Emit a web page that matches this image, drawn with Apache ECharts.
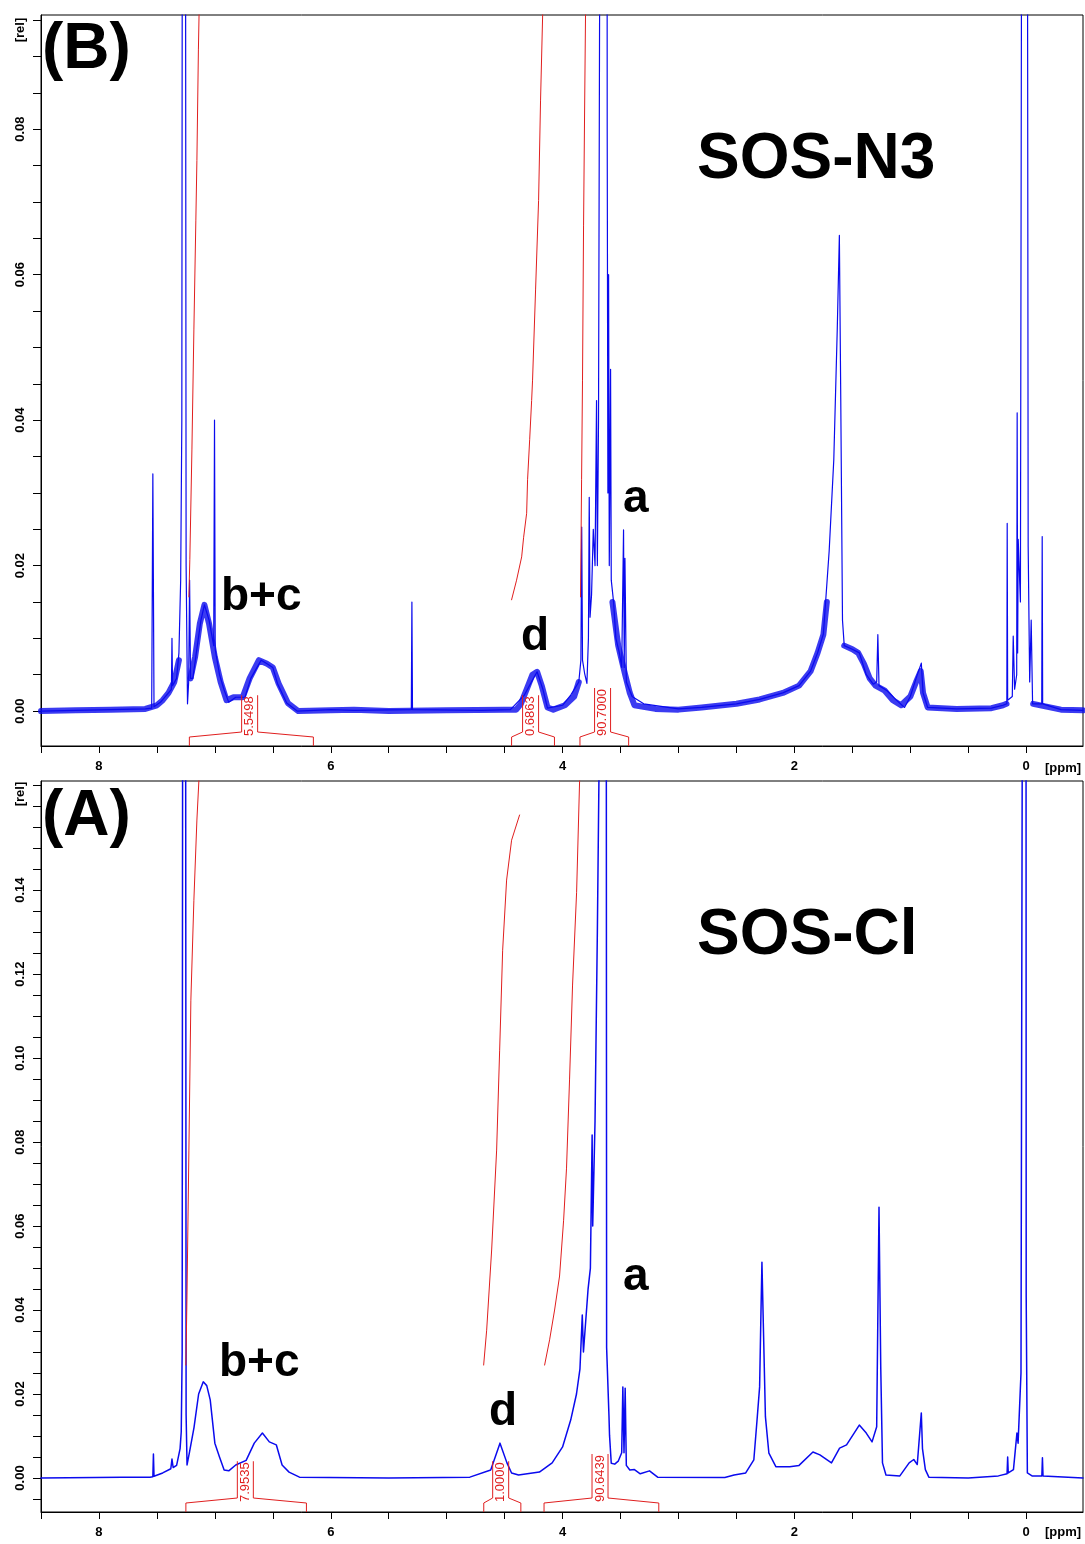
<!DOCTYPE html>
<html><head><meta charset="utf-8">
<script src="https://cdn.jsdelivr.net/npm/echarts@6/dist/echarts.min.js"></script>
<style>html,body{margin:0;padding:0;background:#fff}#c{width:1085px;height:1544px}</style>
</head><body><div id="c"></div>
<script>
// ---------- tick labels ----------
const xTicks = [8.5,8,7.5,7,6.5,6,5.5,5,4.5,4,3.5,3,2.5,2,1.5,1,0.5,0];
const xLabels = [8,6,4,2,0];
const yTicksB = [0,0.005,0.01,0.015,0.02,0.025,0.03,0.035,0.04,0.045,0.05,0.055,0.06,0.065,0.07,0.075,0.08,0.085,0.09,0.095];
const yLabelsB = [0,0.02,0.04,0.06,0.08];
const yTicksA = [-0.005,0,0.005,0.01,0.015,0.02,0.025,0.03,0.035,0.04,0.045,0.05,0.055,0.06,0.065,0.07,0.075,0.08,0.085,0.09,0.095,0.1,0.105,0.11,0.115,0.12,0.125,0.13,0.135,0.14,0.145,0.15,0.155,0.16,0.165];
const yLabelsA = [0,0.02,0.04,0.06,0.08,0.10,0.12,0.14];

// ---------- (B) SOS-N3 spectrum [ppm, rel] ----------
const specB = [
[8.50,0.0000],[8.20,0.0001],[7.90,0.0002],[7.60,0.0003],[7.545,0.0004],[7.535,0.0326],[7.525,0.0006],
[7.47,0.0012],[7.40,0.0025],[7.375,0.0030],[7.37,0.0100],[7.365,0.0035],[7.33,0.0045],[7.31,0.0080],
[7.295,0.0180],[7.285,0.0400],[7.276,0.2000],[7.267,1.0000],[7.258,0.2000],[7.248,0.0200],[7.236,0.0010],
[7.226,0.0040],[7.218,0.0180],[7.21,0.0045],[7.19,0.0045],[7.16,0.0080],[7.12,0.0125],[7.09,0.0146],
[7.05,0.0125],[7.01,0.0090],[7.003,0.0400],[6.997,0.0085],[6.96,0.0050],[6.92,0.0029],[6.88,0.0012],
[6.82,0.0019],[6.74,0.0019],[6.69,0.0045],[6.60,0.0070],[6.55,0.0065],[6.50,0.0060],[6.46,0.0038],
[6.38,0.0011],[6.29,0.0000],[6.00,0.0002],[5.80,0.0001],[5.305,0.0002],[5.30,0.0150],[5.295,0.0002],
[4.70,0.0001],[4.45,0.0002],[4.33,0.0022],[4.22,0.0054],[4.17,0.0030],[4.13,0.0004],[4.00,0.0008],
[3.93,0.0022],[3.86,0.0040],[3.842,0.0070],[3.835,0.0253],[3.828,0.0070],[3.81,0.0052],[3.79,0.0038],
[3.777,0.0100],[3.77,0.0294],[3.763,0.0129],[3.75,0.0160],[3.735,0.0250],[3.72,0.0200],[3.707,0.0427],
[3.70,0.0200],[3.69,0.0400],[3.68,0.1000],[3.672,0.3000],[3.645,1.0000],[3.621,0.3000],[3.615,0.0800],
[3.609,0.0300],[3.603,0.0600],[3.597,0.0200],[3.586,0.0470],[3.58,0.0180],[3.56,0.0150],[3.54,0.0100],
[3.51,0.0080],[3.49,0.0060],[3.474,0.0249],[3.468,0.0060],[3.462,0.0210],[3.45,0.0040],[3.40,0.0020],
[3.30,0.0010],[3.00,0.0003],[2.80,0.0005],[2.50,0.0010],[2.30,0.0016],[2.10,0.0025],[1.96,0.0035],
[1.86,0.0055],[1.80,0.0080],[1.75,0.0106],[1.70,0.0220],[1.66,0.0346],[1.63,0.0526],[1.612,0.0654],
[1.60,0.0430],[1.585,0.0125],[1.57,0.0090],[1.50,0.0085],[1.44,0.0080],[1.38,0.0050],[1.32,0.0037],
[1.29,0.0040],[1.28,0.0105],[1.27,0.0035],[1.20,0.0028],[1.12,0.0015],[1.05,0.0005],[1.00,0.0020],
[0.95,0.0045],[0.905,0.0066],[0.89,0.0025],[0.85,0.0005],[0.60,0.0003],[0.30,0.0004],[0.20,0.0008],
[0.167,0.0010],[0.164,0.0258],[0.160,0.0015],[0.12,0.0020],[0.112,0.0103],[0.10,0.0030],[0.082,0.0050],
[0.078,0.0410],[0.074,0.0080],[0.069,0.0236],[0.05,0.0150],[0.03,0.2000],[0.013,1.0000],[-0.005,0.2000],
[-0.017,0.0226],[-0.03,0.0040],[-0.043,0.0125],[-0.055,0.0010],[-0.134,0.0010],[-0.138,0.0240],
[-0.142,0.0010],[-0.30,0.0002],[-0.49,0.0001]
];
// broad (noisy) component of (B), drawn as a band
const bandB = [
[8.50,0.0000],[8.20,0.0001],[7.90,0.0002],[7.60,0.0003],[7.50,0.0008],[7.45,0.0015],[7.40,0.0025],
[7.35,0.0040],[7.31,0.0070],[7.30,'-'],[7.21,0.0045],[7.17,0.0075],[7.13,0.0120],
[7.09,0.0146],[7.05,0.0120],[7.00,0.0074],[6.95,0.0040],[6.90,0.0015],[6.84,0.0019],[6.76,0.0019],
[6.70,0.0045],[6.62,0.0070],[6.55,0.0065],[6.50,0.0060],[6.45,0.0038],[6.37,0.0011],[6.28,0.0000],
[6.00,0.0001],[5.80,0.0002],[5.50,0.0000],[5.00,0.0001],[4.50,0.0002],[4.40,0.0002],[4.36,0.0010],
[4.31,0.0030],[4.26,0.0050],[4.22,0.0054],[4.18,0.0035],[4.13,0.0005],[4.08,0.0002],[3.98,0.0008],
[3.90,0.0020],[3.86,0.0040],[3.85,'-'],[3.57,0.0150],[3.52,0.0090],[3.46,0.0050],[3.42,0.0025],[3.38,0.0008],[3.20,0.0003],[3.00,0.0002],
[2.80,0.0005],[2.50,0.0010],[2.30,0.0016],[2.10,0.0025],[1.96,0.0035],[1.86,0.0055],[1.80,0.0080],
[1.75,0.0105],[1.72,0.0150],[1.70,'-'],[1.57,0.0090],[1.50,0.0085],[1.45,0.0080],
[1.40,0.0065],[1.35,0.0045],[1.30,0.0035],[1.22,0.0028],[1.15,0.0015],[1.08,0.0008],[1.00,0.0020],
[0.95,0.0040],[0.91,0.0055],[0.89,0.0025],[0.85,0.0005],[0.60,0.0003],[0.30,0.0004],[0.20,0.0008],
[0.17,0.0010],[0.16,'-'],[-0.06,0.0010],[-0.30,0.0002],[-0.49,0.0001]
];
// integral curves of (B)
const intB1 = [[7.224,0.0157],[7.216,0.0208],[7.198,0.0359],[7.181,0.0524],[7.164,0.0675],[7.155,0.0757],[7.142,0.0909],[7.134,0.0977]];
const intB2 = [[4.440,0.0153],[4.397,0.0180],[4.353,0.0212],[4.336,0.0239],[4.310,0.0272],[4.302,0.0318],[4.284,0.0373],[4.267,0.0427],[4.259,0.0455],[4.233,0.0579],[4.207,0.0702],[4.190,0.0840],[4.172,0.0957],[4.168,0.0977]];
const intB3 = [[3.845,0.0157],[3.836,0.0318],[3.828,0.0455],[3.819,0.0667],[3.810,0.0825],[3.802,0.0957],[3.800,0.0977]];
const intFromB = [7.22,4.44,3.85];
const intToB = [6.15,4.07,3.43];
const intMidB = [6.70,4.276,3.655];
const intValB = ['5.5498','0.6863','90.7000'];

// ---------- (A) SOS-Cl spectrum ----------
const specA = [
[8.50,0.0000],[7.80,0.0002],[7.56,0.0002],[7.535,0.0003],[7.53,0.0057],[7.525,0.0004],[7.45,0.0012],
[7.38,0.0022],[7.37,0.0045],[7.36,0.0025],[7.33,0.0030],[7.30,0.0070],[7.29,0.0110],[7.282,0.0300],
[7.275,0.3000],[7.265,1.0000],[7.255,0.3000],[7.248,0.0150],[7.24,0.0031],[7.22,0.0060],[7.18,0.0120],
[7.14,0.0200],[7.10,0.0229],[7.07,0.0220],[7.04,0.0186],[7.00,0.0083],[6.96,0.0050],[6.92,0.0019],
[6.88,0.0017],[6.82,0.0031],[6.73,0.0042],[6.66,0.0083],[6.59,0.0107],[6.53,0.0086],[6.47,0.0079],
[6.42,0.0031],[6.36,0.0014],[6.27,0.0002],[5.50,0.0000],[4.80,0.0002],[4.62,0.0019],[4.54,0.0083],
[4.48,0.0036],[4.44,0.0012],[4.38,0.0007],[4.20,0.0014],[4.09,0.0036],[4.00,0.0074],[3.93,0.0138],
[3.88,0.0200],[3.85,0.0260],[3.83,0.0388],[3.82,0.0300],[3.78,0.0450],[3.76,0.0500],[3.745,0.0817],
[3.74,0.0600],[3.72,0.0850],[3.70,0.1300],[3.685,0.1700],[3.67,0.4000],[3.645,1.0000],[3.625,0.3000],
[3.62,0.0310],[3.60,0.0150],[3.595,0.0102],[3.58,0.0035],[3.55,0.0033],[3.52,0.0040],[3.49,0.0060],
[3.48,0.0217],[3.47,0.0060],[3.46,0.0214],[3.45,0.0030],[3.42,0.0019],[3.38,0.0020],[3.33,0.0010],
[3.25,0.0017],[3.18,0.0002],[2.60,0.0001],[2.52,0.0007],[2.42,0.0012],[2.35,0.0043],[2.32,0.0146],
[2.30,0.0217],[2.29,0.0370],[2.28,0.0514],[2.27,0.0390],[2.25,0.0146],[2.22,0.0059],[2.16,0.0027],
[2.04,0.0027],[1.96,0.0030],[1.84,0.0062],[1.78,0.0055],[1.68,0.0036],[1.61,0.0071],[1.55,0.0079],
[1.44,0.0126],[1.38,0.0107],[1.33,0.0086],[1.29,0.0122],[1.27,0.0645],[1.255,0.0264],[1.24,0.0036],
[1.21,0.0007],[1.09,0.0005],[1.01,0.0036],[0.97,0.0044],[0.94,0.0032],[0.905,0.0155],[0.895,0.0070],
[0.87,0.0020],[0.84,0.0002],[0.50,0.0000],[0.24,0.0005],[0.165,0.0010],[0.16,0.0050],[0.155,0.0012],
[0.11,0.0020],[0.08,0.0107],[0.07,0.0083],[0.045,0.0250],[0.025,0.3000],[0.01,1.0000],[0.0,0.0430],
[-0.01,0.0012],[-0.05,0.0005],[-0.135,0.0005],[-0.14,0.0048],[-0.145,0.0005],[-0.49,0.0000]
];
const intA1 = [[7.250,0.0269],[7.241,0.0424],[7.224,0.0781],[7.207,0.1138],[7.181,0.1376],[7.155,0.1567],[7.138,0.1660],[7.135,0.1686]];
const intA2 = [[4.681,0.0269],[4.655,0.0352],[4.612,0.0543],[4.569,0.0781],[4.543,0.1019],[4.517,0.1257],[4.483,0.1424],[4.440,0.1519],[4.371,0.1579]];
const intA3 = [[4.155,0.0269],[4.112,0.0329],[4.069,0.0400],[4.026,0.0481],[3.991,0.0614],[3.966,0.0738],[3.940,0.0948],[3.914,0.1174],[3.879,0.1395],[3.853,0.1662],[3.850,0.1700]];
const intFromA = [7.25,4.68,4.16];
const intToA = [6.21,4.36,3.17];
const intMidA = [6.737,4.534,3.677];
const intValA = ['7.9535','1.0000','90.6439'];

// ---------- chart ----------
const FONT = '"Liberation Sans", Arial, sans-serif';
const BLUE = '#0a0aee';
const RED = '#e01f1f';
const mctx = document.createElement('canvas').getContext('2d');
mctx.font = '13px ' + FONT;

function xAx(gi){
  return {type:'value', gridIndex:gi, min:-0.49, max:8.5, inverse:true,
    axisLine:{show:true, onZero:false, lineStyle:{color:'#000', width:1}},
    axisTick:{show:true, length:7, customValues:xTicks, lineStyle:{color:'#000'}},
    axisLabel:{customValues:xLabels, margin:14, color:'#000', fontWeight:'bold', fontSize:13, fontFamily:FONT, formatter:v=>String(v)},
    splitLine:{show:false}};
}
function yAx(gi, min, max, ticks, labels){
  return {type:'value', gridIndex:gi, min:min, max:max,
    axisLine:{show:true, onZero:false, lineStyle:{color:'#000', width:1}},
    axisTick:{show:true, length:8, customValues:ticks, lineStyle:{color:'#000'}},
    axisLabel:{customValues:labels, rotate:90, margin:14, color:'#000', fontWeight:'bold', fontSize:13, fontFamily:FONT, formatter:v=>v.toFixed(2)},
    splitLine:{show:false}};
}
function line(gi, data, color, width, z, opacity){
  return {type:'line', xAxisIndex:gi, yAxisIndex:gi, data:data, showSymbol:false, symbol:'none',
    connectNulls:false, silent:true, clip:true, z:z, animation:false,
    lineStyle:{color:color, width:width, join:'round', cap:'round', opacity:(opacity==null?1:opacity)}};
}
function brackets(gi, from, to, mid, vals){
  const data = from.map((f,i)=>[f, to[i], mid[i]]);
  return {type:'custom', xAxisIndex:gi, yAxisIndex:gi, silent:true, z:6, data:data, clip:false,
    renderItem:function(params, api){
      const cs = params.coordSys;
      const yb = cs.y + cs.height;
      const x1 = api.coord([api.value(0), 0])[0];
      const x2 = api.coord([api.value(1), 0])[0];
      const xm = api.coord([api.value(2), 0])[0];
      const t = vals[params.dataIndex];
      const tw = mctx.measureText(t).width;
      const yTop = yb - 10 - tw - 1;
      const st = {stroke:RED, fill:null, lineWidth:1};
      return {type:'group', children:[
        {type:'polyline', shape:{points:[[x1,yb],[x1,yb-9],[xm-8,yb-14],[xm-8,yTop]]}, style:st},
        {type:'polyline', shape:{points:[[xm+8,yTop],[xm+8,yb-14],[x2,yb-9],[x2,yb]]}, style:st},
        {type:'text', x:xm, y:yb-10, rotation:Math.PI/2,
          style:{text:t, fill:RED, font:'13px '+FONT, align:'left', verticalAlign:'middle'}}
      ]};
    }};
}
function txt(s, x, yMid, size){
  return {type:'text', x:x, y:yMid, silent:true,
    style:{text:s, fill:'#000', font:'bold '+size+'px '+FONT, align:'left', verticalAlign:'middle'}};
}
function rtxt(s, x, y){
  return {type:'text', x:x, y:y, rotation:Math.PI/2, silent:true,
    style:{text:s, fill:'#000', font:'bold 13px '+FONT, align:'center', verticalAlign:'middle'}};
}

const chart = echarts.init(document.getElementById('c'), null, {renderer:'canvas'});
chart.setOption({
  animation:false,
  backgroundColor:'#fff',
  grid:[
    {left:41, top:15, width:1042, height:731, show:true, borderColor:'#000', borderWidth:1, backgroundColor:'transparent'},
    {left:41, top:781, width:1042, height:731, show:true, borderColor:'#000', borderWidth:1, backgroundColor:'transparent'}
  ],
  xAxis:[xAx(0), xAx(1)],
  yAxis:[yAx(0,-0.0048,0.0957,yTicksB,yLabelsB), yAx(1,-0.0081,0.166,yTicksA,yLabelsA)],
  series:[
    line(0, bandB, BLUE, 6, 2, 0.8),
    line(0, specB, BLUE, 1.2, 3),
    line(0, intB1, RED, 1, 4), line(0, intB2, RED, 1, 4), line(0, intB3, RED, 1, 4),
    brackets(0, intFromB, intToB, intMidB, intValB),
    line(1, specA, BLUE, 1.5, 3),
    line(1, intA1, RED, 1, 4), line(1, intA2, RED, 1, 4), line(1, intA3, RED, 1, 4),
    brackets(1, intFromA, intToA, intMidA, intValA)
  ],
  graphic:[
    txt('(B)', 42, 50, 64), txt('SOS-N3', 697, 160, 64),
    txt('b+c', 221, 597, 46), txt('d', 521, 637, 46), txt('a', 623, 499, 46),
    txt('(A)', 42, 817, 64), txt('SOS-Cl', 697, 936, 64),
    txt('b+c', 219, 1363, 46), txt('d', 489, 1412, 46), txt('a', 623, 1277, 46),
    rtxt('[rel]', 20, 30), rtxt('[rel]', 20, 794),
    {type:'text', x:1045, y:768, silent:true, style:{text:'[ppm]', fill:'#000', font:'bold 13px '+FONT, align:'left', verticalAlign:'middle'}},
    {type:'text', x:1045, y:1532, silent:true, style:{text:'[ppm]', fill:'#000', font:'bold 13px '+FONT, align:'left', verticalAlign:'middle'}}
  ]
});
</script>
</body></html>
